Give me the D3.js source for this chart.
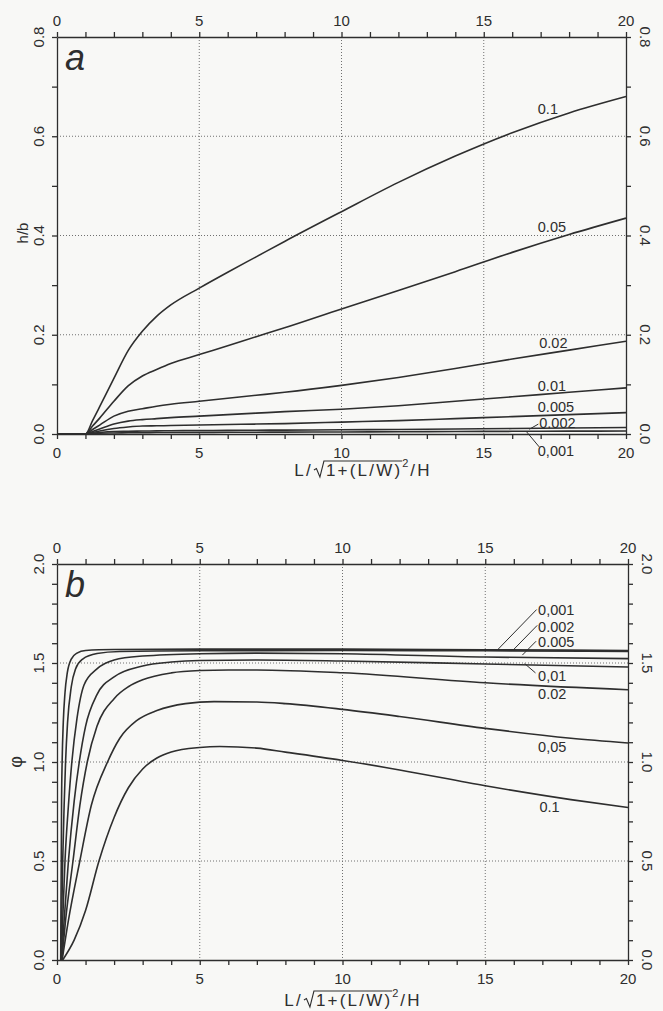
<!DOCTYPE html>
<html>
<head>
<meta charset="utf-8">
<script src="https://cdn.jsdelivr.net/npm/d3@7"></script>
<style>
  body { margin: 0; background: #f8f8f6; }
  svg text { font-family: "Liberation Sans", Arial, sans-serif; fill: #2e2e2e; }
</style>
</head>
<body>
<svg id="fig" width="663" height="1011"></svg>
<script>
// ---- panel a : h/b against L/sqrt(1+(L/W)^2)/H, one curve per value
var xA = [0, 0.9, 1, 1.25, 1.5, 2, 2.5, 3, 3.5, 4, 5, 6, 7, 8, 10, 12, 14, 16, 18, 20];
var hb_0001 = [0, 0, 0, 0.0008, 0.0015, 0.002, 0.0024, 0.0027, 0.0029, 0.003, 0.0032, 0.0034, 0.0036, 0.0038, 0.0041, 0.0045, 0.005, 0.0054, 0.0057, 0.006];
var hb_0002 = [0, 0, 0, 0.0015, 0.003, 0.005, 0.0055, 0.006, 0.0063, 0.0066, 0.007, 0.0073, 0.0076, 0.0079, 0.0085, 0.0092, 0.010, 0.011, 0.012, 0.013];
var hb_0005 = [0, 0, 0, 0.003, 0.006, 0.011, 0.014, 0.016, 0.0165, 0.017, 0.018, 0.019, 0.02, 0.021, 0.024, 0.027, 0.031, 0.035, 0.039, 0.043];
var hb_001 = [0, 0, 0, 0.005, 0.01, 0.02, 0.026, 0.029, 0.031, 0.033, 0.036, 0.039, 0.042, 0.045, 0.05, 0.057, 0.066, 0.075, 0.084, 0.093];
var hb_002 = [0, 0, 0, 0.009, 0.018, 0.036, 0.046, 0.051, 0.056, 0.06, 0.066, 0.072, 0.078, 0.084, 0.098, 0.114, 0.132, 0.151, 0.169, 0.187];
var hb_005 = [0, 0, 0, 0.016, 0.032, 0.066, 0.097, 0.117, 0.13, 0.142, 0.16, 0.178, 0.196, 0.214, 0.252, 0.289, 0.327, 0.366, 0.402, 0.435];
var hb_01 = [0, 0, 0, 0.027, 0.055, 0.112, 0.168, 0.207, 0.237, 0.26, 0.294, 0.326, 0.357, 0.388, 0.448, 0.507, 0.56, 0.607, 0.647, 0.68];

// curve labels of panel a: text, x, y (data units)
var labelsA = [["0.1", 16.9, 0.655], ["0.05", 16.9, 0.417], ["0.02", 16.95, 0.184], ["0.01", 16.9, 0.096],
               ["0.005", 16.9, 0.055], ["0.002", 16.95, 0.022], ["0,001", 16.9, -0.034]];
var leadersA = [[16.6, 0.0095, 16.92, 0.02], [16.5, 0.0048, 16.95, -0.026]];

// ---- panel b : phi, [x, phi] pairs per curve
var phi_0001 = [[0.13,0],[0.14,0.3],[0.15,0.5],[0.16,0.8],[0.18,1.0],[0.22,1.2],[0.28,1.35],[0.36,1.45],[0.5,1.52],[0.7,1.55],[1,1.563],[2,1.568],[5,1.57],[10,1.57],[15,1.567],[20,1.563]];
var phi_0002 = [[0.14,0],[0.17,0.25],[0.2,0.5],[0.25,0.78],[0.3,1.0],[0.37,1.2],[0.5,1.38],[0.65,1.47],[0.9,1.52],[1.4,1.548],[2.2,1.558],[5,1.562],[10,1.563],[15,1.562],[20,1.558]];
var phi_0005 = [[0.15,0],[0.2,0.2],[0.28,0.5],[0.4,0.78],[0.52,1.0],[0.7,1.22],[0.95,1.39],[1.4,1.47],[2,1.515],[3,1.535],[5,1.547],[7,1.55],[10,1.547],[15,1.53],[20,1.522]];
var phi_001 = [[0.16,0],[0.25,0.2],[0.4,0.5],[0.6,0.8],[0.78,1.0],[1,1.18],[1.4,1.34],[2,1.43],[3,1.485],[4,1.505],[5,1.513],[7,1.515],[10,1.51],[15,1.495],[20,1.48]];
var phi_002 = [[0.17,0],[0.3,0.2],[0.56,0.5],[0.8,0.78],[1.06,1.0],[1.4,1.18],[2,1.32],[2.5,1.38],[3,1.415],[4,1.45],[5,1.462],[6,1.465],[7,1.465],[10,1.451],[15,1.40],[20,1.365]];
var phi_005 = [[0.18,0],[0.4,0.2],[0.8,0.5],[1.2,0.78],[1.77,1.0],[2.2,1.12],[2.8,1.21],[3.5,1.26],[4.5,1.295],[5.5,1.305],[7,1.303],[8,1.295],[10,1.266],[12,1.23],[15,1.17],[18,1.12],[20,1.096]];
var phi_01 = [[0.2,0],[0.6,0.1],[1.0,0.25],[1.47,0.5],[2,0.72],[2.5,0.87],[3,0.965],[3.5,1.02],[4,1.05],[5,1.073],[5.7,1.078],[7,1.07],[8,1.05],[10,1.008],[12,0.96],[15,0.88],[18,0.81],[20,0.77]];

var labelsB = [["0,001", 16.85, 1.766], ["0.002", 16.85, 1.682], ["0.005", 16.85, 1.606], ["0,01", 16.85, 1.434],
               ["0.02", 16.85, 1.342], ["0,05", 16.85, 1.076], ["0.1", 16.9, 0.773]];
var leadersB = [[15.44, 1.568, 16.8, 1.77], [15.96, 1.563, 16.82, 1.69], [16.3, 1.54, 16.78, 1.61], [16.38, 1.497, 16.76, 1.45]];

// ticks
var xMajor = [0, 5, 10, 15, 20];
var xGrid = [5, 10, 15];
var yMajorA = [0, 0.2, 0.4, 0.6, 0.8], yGridA = [0.2, 0.4, 0.6];
var yMajorB = [0, 0.5, 1.0, 1.5, 2.0], yGridB = [0.5, 1.0, 1.5];

var svg = d3.select("#fig");
var ink = "#2e2e2e";

function drawPanel(p) {
  var x = d3.scaleLinear().domain([0, 20]).range([p.left, p.right]);
  var y = d3.scaleLinear().domain([0, p.ymax]).range([p.bottom, p.top]);
  var g = svg.append("g");

  // dotted grid
  g.selectAll(".vg").data(xGrid).enter().append("line")
    .attr("x1", d => x(d)).attr("x2", d => x(d)).attr("y1", p.top).attr("y2", p.bottom)
    .attr("stroke", "#707070").attr("stroke-width", 1).attr("stroke-dasharray", "1,2");
  g.selectAll(".hg").data(p.yGrid).enter().append("line")
    .attr("x1", p.left).attr("x2", p.right).attr("y1", d => y(d)).attr("y2", d => y(d))
    .attr("stroke", "#707070").attr("stroke-width", 1).attr("stroke-dasharray", "1,2");

  // axes with minor ticks, all outward
  var xt = d3.range(0, 21), yt = d3.range(0, Math.round(p.ymax * 10) + 1).map(d => d / 10);
  g.append("g").attr("transform", "translate(0," + p.bottom + ")")
    .call(d3.axisBottom(x).tickValues(xt).tickSize(5).tickSizeOuter(0).tickFormat(""));
  g.append("g").attr("transform", "translate(0," + p.top + ")")
    .call(d3.axisTop(x).tickValues(xt).tickSize(5).tickSizeOuter(0).tickFormat(""));
  g.append("g").attr("transform", "translate(" + p.left + ",0)")
    .call(d3.axisLeft(y).tickValues(yt).tickSize(5).tickSizeOuter(0).tickFormat(""));
  g.append("g").attr("transform", "translate(" + p.right + ",0)")
    .call(d3.axisRight(y).tickValues(yt).tickSize(5).tickSizeOuter(0).tickFormat(""));
  g.selectAll(".domain, .tick line").attr("stroke", ink).attr("stroke-width", 1.3);

  // tick labels
  [p.top - 17, p.bottom + 18].forEach(function(ty) {
    g.selectAll(null).data(xMajor).enter().append("text")
      .attr("x", d => x(d)).attr("y", ty).attr("text-anchor", "middle")
      .attr("dominant-baseline", "central").attr("font-size", 15).text(d => d);
  });
  var f = d3.format(".1f");
  g.selectAll(null).data(p.yMajor).enter().append("text")
    .attr("transform", d => "translate(" + (p.left - 19) + "," + y(d) + ") rotate(-90)")
    .attr("text-anchor", "middle").attr("dominant-baseline", "central").attr("font-size", 15).text(f);
  g.selectAll(null).data(p.yMajor).enter().append("text")
    .attr("transform", d => "translate(" + (p.right + 19) + "," + y(d) + ") rotate(90)")
    .attr("text-anchor", "middle").attr("dominant-baseline", "central").attr("font-size", 15).text(f);

  // y title and panel letter
  g.append("text").attr("transform", "translate(" + p.ytx + "," + y(p.yty) + ") rotate(-90)")
    .attr("text-anchor", "middle").attr("dominant-baseline", "central")
    .attr("font-size", p.ytSize).text(p.ytitle);
  g.append("text").attr("x", p.left + 8).attr("y", p.top + 33)
    .attr("font-size", 36).attr("font-style", "italic").text(p.letter);

  // curves
  var line = d3.line().x(d => x(d[0])).y(d => y(d[1])).curve(d3.curveMonotoneX);
  g.selectAll(".curve").data(p.series).enter().append("path")
    .attr("d", line).attr("fill", "none").attr("stroke", ink).attr("stroke-width", 1.6);

  // curve labels and leader lines
  g.selectAll(".lead").data(p.leaders).enter().append("line")
    .attr("x1", d => x(d[0])).attr("y1", d => y(d[1])).attr("x2", d => x(d[2])).attr("y2", d => y(d[3]))
    .attr("stroke", ink).attr("stroke-width", 1);
  g.selectAll(".lab").data(p.labels).enter().append("text")
    .attr("x", d => x(d[1])).attr("y", d => y(d[2])).attr("dominant-baseline", "central")
    .attr("font-size", 14.5).text(d => d[0]);

  xTitle(p.xtx, p.xty);
}

// x title  L / sqrt(1 + (L/W)^2) / H  with a drawn radical sign
function xTitle(cx, base) {
  var g = svg.append("g").attr("font-size", 17).attr("letter-spacing", 2.2);
  var t1 = g.append("text").attr("x", 0).attr("y", 0).text("L/");
  var c = t1.node().getComputedTextLength() + 1;
  var t2 = g.append("text").attr("x", c + 12).attr("y", 0).text("1+(L/W)");
  var w2 = t2.node().getComputedTextLength();
  var end = c + 12 + w2;
  g.append("path").attr("fill", "none").attr("stroke", ink).attr("stroke-width", 1.1)
    .attr("d", "M" + c + ",-6 L" + (c + 2.5) + ",-7.5 L" + (c + 6) + ",1 L" + (c + 10) + ",-15 L" + end + ",-15");
  g.append("text").attr("x", end).attr("y", -9).attr("font-size", 11).attr("letter-spacing", 0).text("2");
  var t4 = g.append("text").attr("x", end + 8).attr("y", 0).text("/H");
  var total = end + 8 + t4.node().getComputedTextLength();
  g.attr("transform", "translate(" + (cx - total / 2) + "," + base + ")");
}

function zip(xs, ys) { return xs.map((v, i) => [v, ys[i]]); }

drawPanel({
  left: 57, right: 626, top: 37, bottom: 434, ymax: 0.8,
  yMajor: yMajorA, yGrid: yGridA, letter: "a",
  ytitle: "h/b", ytx: 22, yty: 0.405, ytSize: 15,
  series: [hb_0001, hb_0002, hb_0005, hb_001, hb_002, hb_005, hb_01].map(s => zip(xA, s)),
  labels: labelsA, leaders: leadersA, xtx: 363, xty: 476
});

drawPanel({
  left: 57, right: 628, top: 564, bottom: 960, ymax: 2.0,
  yMajor: yMajorB, yGrid: yGridB, letter: "b",
  ytitle: "φ", ytx: 16, yty: 1.0, ytSize: 18,
  series: [phi_0001, phi_0002, phi_0005, phi_001, phi_002, phi_005, phi_01],
  labels: labelsB, leaders: leadersB, xtx: 353, xty: 1006
});
</script>
</body>
</html>
